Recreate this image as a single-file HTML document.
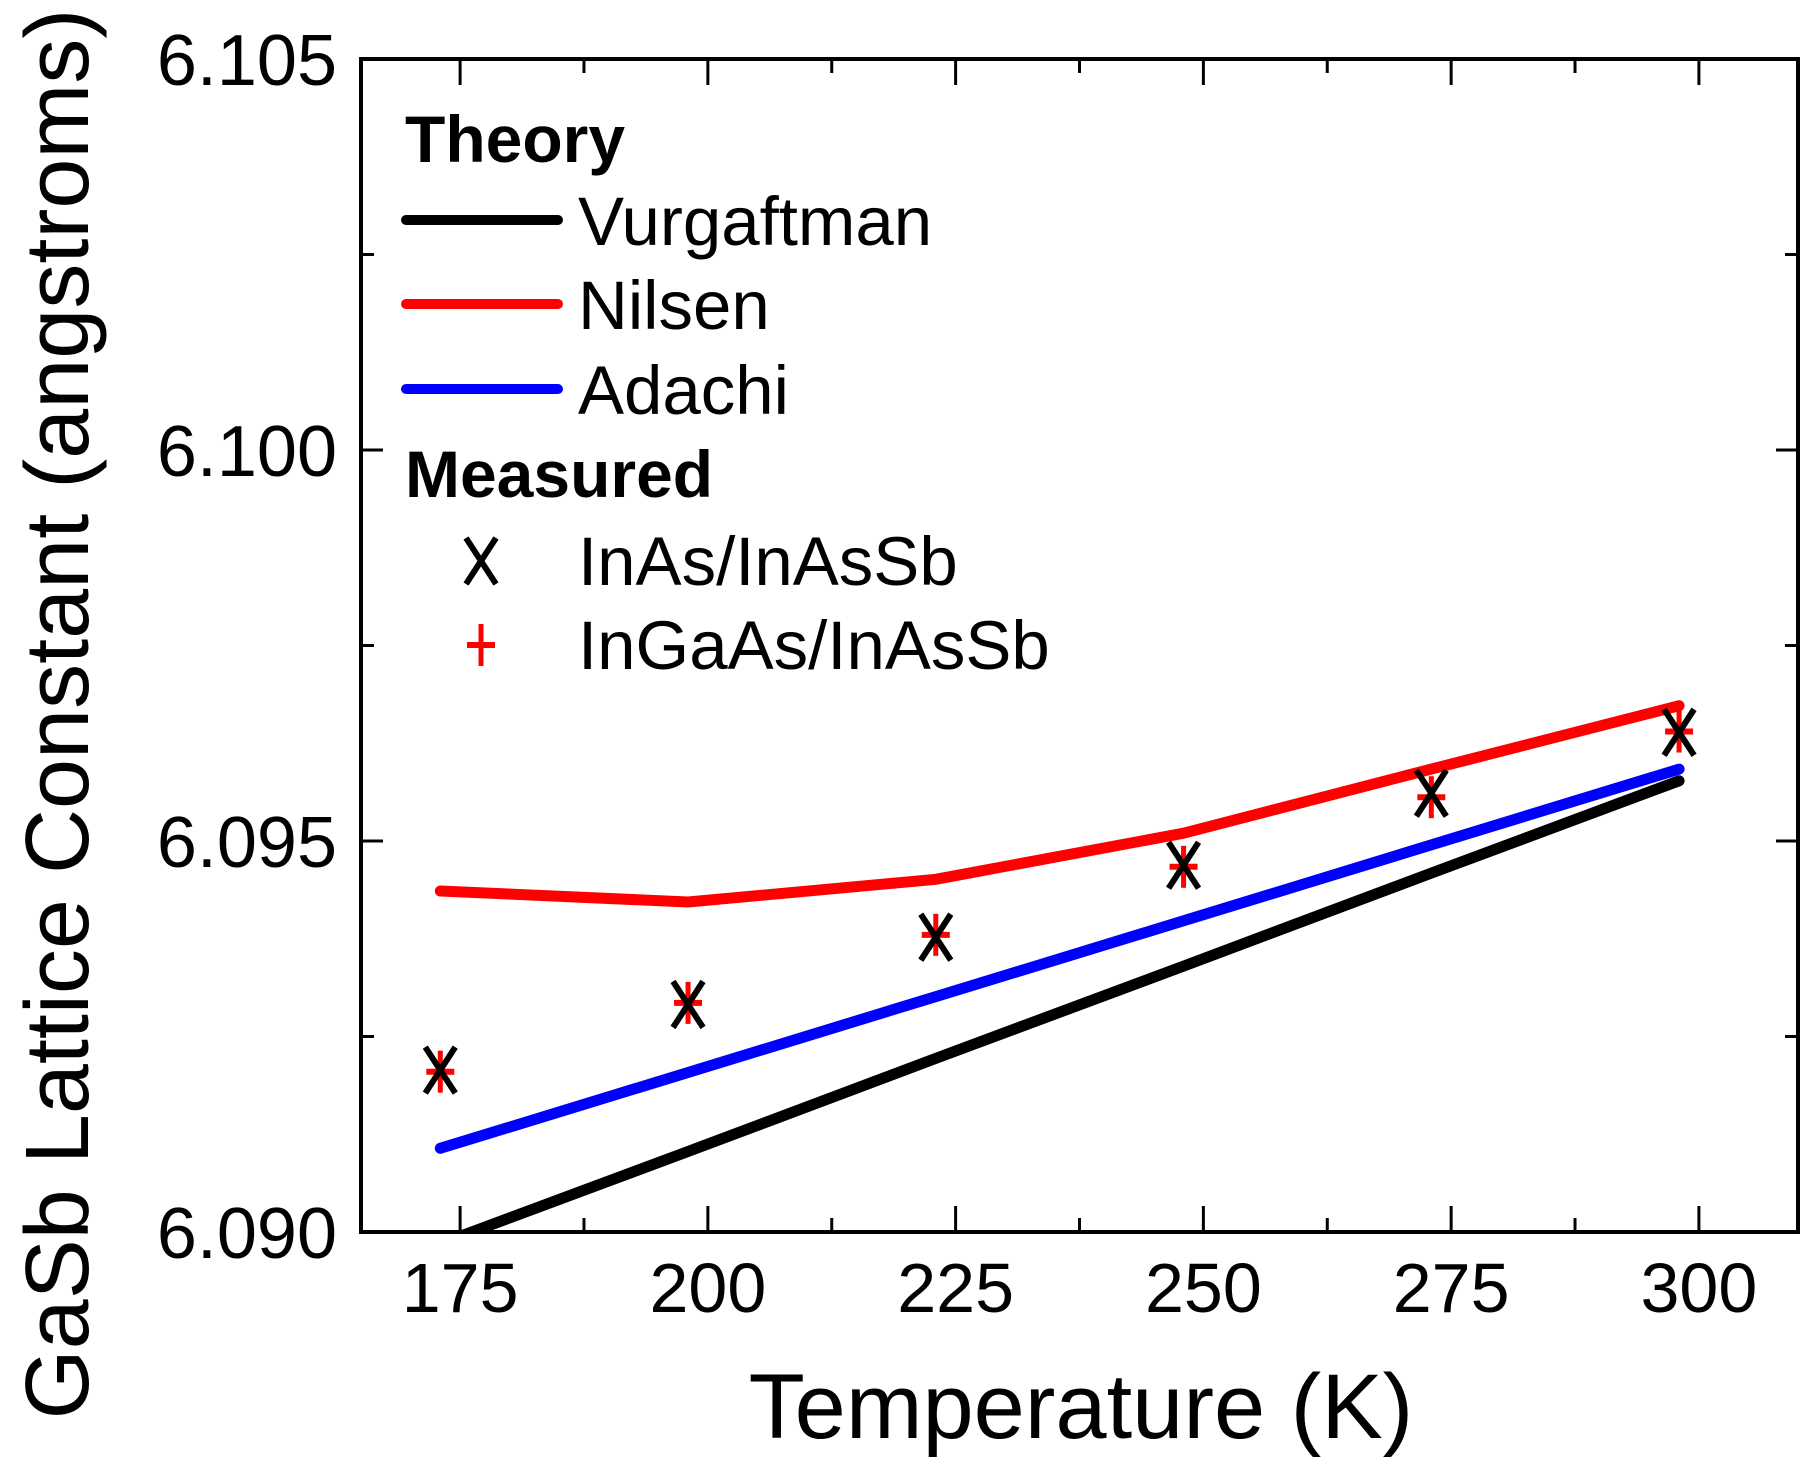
<!DOCTYPE html>
<html><head><meta charset="utf-8"><style>
html,body{margin:0;padding:0;background:#fff}
svg{display:block;font-family:"Liberation Sans",Arial,sans-serif}
</style></head><body>
<svg id="chart" width="1813" height="1478" viewBox="0 0 1813 1478" xmlns="http://www.w3.org/2000/svg">
<g id="axes"></g>
<g id="series"></g>
<g id="legend"></g>
<text transform="translate(88,714) rotate(-90)" text-anchor="middle" font-size="90" fill="#000">GaSb Lattice Constant (angstroms)</text>
<text x="1081" y="1438" text-anchor="middle" font-size="92" fill="#000">Temperature (K)</text>
</svg>
<script>
const temps = [173, 198, 223, 248, 273, 298];
const vurgaftman = [6.08985, 6.09103, 6.09222, 6.09340, 6.09459, 6.09577];
const nilsen = [6.09436, 6.09422, 6.09451, 6.09510, 6.09592, 6.09673];
const adachi = [6.09107, 6.09204, 6.09301, 6.09398, 6.09495, 6.09592];
const inasInassb = [6.09207, 6.09291, 6.09377, 6.09469, 6.09561, 6.09639];
const ingaasInassb = [6.09205, 6.09293, 6.09380, 6.09467, 6.09556, 6.09640];
const xTicks = [175, 200, 225, 250, 275, 300];
const yTicks = [6.090, 6.095, 6.100, 6.105];
const yTickLabels = ["6.090", "6.095", "6.100", "6.105"];

const L=361,R=1798,T=59,B=1232;
const X0=165,X1=310,Y0=6.090,Y1=6.105;
const sx=v=>L+(v-X0)/(X1-X0)*(R-L);
const sy=v=>B-(v-Y0)/(Y1-Y0)*(B-T);
const NS="http://www.w3.org/2000/svg";
function mk(tag,attrs,parent,txt){const e=document.createElementNS(NS,tag);for(const k in attrs)e.setAttribute(k,attrs[k]);if(txt!==undefined)e.textContent=txt;parent.appendChild(e);return e;}
const axes=document.getElementById('axes'),series=document.getElementById('series'),legend=document.getElementById('legend');

const defs=mk('defs',{},document.getElementById('chart'));
const cp=mk('clipPath',{id:'clip'},defs);
mk('rect',{x:L,y:T,width:R-L,height:B-T},cp);
series.setAttribute('clip-path','url(#clip)');

const frame=mk('rect',{x:L,y:T,width:R-L,height:B-T,fill:'none',stroke:'#000','stroke-width':4},axes);



for(let v=X0+10-12.5; v<=X1; v+=12.5){
  if(v<X0) continue;
  const major=(Math.round(v)%25===0);
  const len=major?26:14;
  const x=sx(v);
  const t1=mk('line',{x1:x,y1:B,x2:x,y2:B-len,stroke:'#000','stroke-width':3},axes);
  
  
  const t2=mk('line',{x1:x,y1:T,x2:x,y2:T+len,stroke:'#000','stroke-width':3},axes);
  
  
}
xTicks.forEach(v=>{
  const t=mk('text',{x:sx(v),y:1312,'text-anchor':'middle','font-size':70,fill:'#000'},axes,String(v));
  
  
});
for(let i=0;i<=6;i++){
  const v=Y0+i*0.0025; const y=sy(v); const major=i%2===0; const len=major?22:13;
  const a=mk('line',{x1:L,y1:y,x2:L+len,y2:y,stroke:'#000','stroke-width':3},axes);
  
  
  const b=mk('line',{x1:R,y1:y,x2:R-len,y2:y,stroke:'#000','stroke-width':3},axes);
  
  
}
yTicks.forEach((v,i)=>{
  const t=mk('text',{x:337,y:sy(v)+26,'text-anchor':'end','font-size':72,fill:'#000'},axes,yTickLabels[i]);
  
  
});

function line(vals,color,name){
  const d=vals.map((v,i)=>(i?'L':'M')+sx(temps[i]).toFixed(1)+','+sy(v).toFixed(1)).join(' ');
  const p=mk('path',{d:d,fill:'none',stroke:color,'stroke-width':11,'stroke-linecap':'round','stroke-linejoin':'round'},series);
  
  
}
line(vurgaftman,'#000','vurgaftman-line');
line(nilsen,'#f00','nilsen-line');
line(adachi,'#00f','adachi-line');

function plus(cx,cy,g){
  mk('line',{x1:cx-14,y1:cy,x2:cx+14,y2:cy,stroke:'#f00','stroke-width':6},g);
  mk('line',{x1:cx,y1:cy-21,x2:cx,y2:cy+21,stroke:'#f00','stroke-width':5},g);
}
function cross(cx,cy,g){
  mk('line',{x1:cx-15,y1:cy-23,x2:cx+15,y2:cy+23,stroke:'#000','stroke-width':6},g);
  mk('line',{x1:cx+15,y1:cy-23,x2:cx-15,y2:cy+23,stroke:'#000','stroke-width':6},g);
}
ingaasInassb.forEach((v,i)=>{
  const g=mk('g',{},series);
  
  
  plus(sx(temps[i]),sy(v),g);
});
inasInassb.forEach((v,i)=>{
  const g=mk('g',{},series);
  
  
  cross(sx(temps[i]),sy(v),g);
});

function lt(x,y,s,bold,name){
  const t=mk('text',{x:x,y:y,'font-size':bold?66:69,'font-weight':bold?'bold':'normal',fill:'#000'},legend,s);
  
  
}
lt(405,162,'Theory',true,'legend-theory-heading');
[['Vurgaftman','#000',220],['Nilsen','#f00',304],['Adachi','#00f',389]].forEach(([n,c,y])=>{
  const l=mk('line',{x1:406,y1:y,x2:558,y2:y,stroke:c,'stroke-width':10,'stroke-linecap':'round'},legend);
  
  
  lt(578,y+25,n,false,'legend-entry-'+n.toLowerCase());
});
lt(405,497,'Measured',true,'legend-measured-heading');
const gx=mk('g',{},legend);


cross(481,561,gx);
lt(578,585,'InAs/InAsSb',false,'legend-entry-inas-inassb');
const gp=mk('g',{},legend);


plus(481,645,gp);
lt(578,669,'InGaAs/InAsSb',false,'legend-entry-ingaas-inassb');
</script>
</body></html>
